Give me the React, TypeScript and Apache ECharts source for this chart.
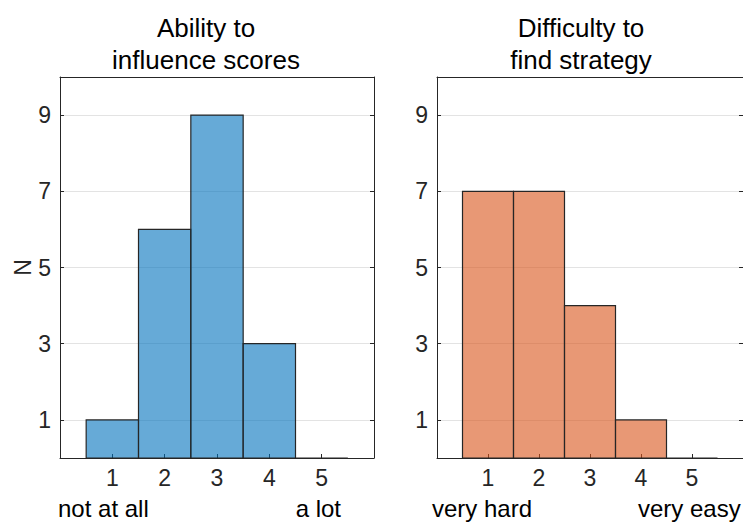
import React, { useEffect, useRef } from "react";
import * as echarts from "echarts";

const categories = [1, 2, 3, 4, 5];
const abilityCounts = [1, 6, 9, 3, 0];
const difficultyCounts = [7, 7, 4, 1, 0];
const yTicks = [1, 3, 5, 7, 9];
const leftTitle = "Ability to\ninfluence scores";
const rightTitle = "Difficulty to\nfind strategy";
const leftEnds = ["not at all", "a lot"];
const rightEnds = ["very hard", "very easy"];
const yName = "N";

const FONT = "Liberation Sans, Arial, Helvetica, sans-serif";
const TICK_FS = 23;
const END_FS = 24;

export default function App() {
  const ref = useRef<HTMLDivElement>(null);
  useEffect(() => {
    if (!ref.current) return;
    const chart = echarts.init(ref.current, null, { renderer: "svg" });
    const grids = [
      { left: 60, top: 77, width: 314, height: 381 },
      { left: 437, top: 77, width: 314, height: 381 },
    ];
    const line = { show: true, onZero: false, lineStyle: { color: "#262626", width: 1 } };
    const xAxes: any[] = [];
    const yAxes: any[] = [];
    grids.forEach((_, i) => {
      xAxes.push({
        type: "value",
        gridIndex: i,
        min: 0,
        max: 6,
        interval: 1,
        axisLine: line,
        axisTick: { show: true, inside: true, length: 4, lineStyle: { color: "#262626" }, customValues: categories },
        axisLabel: { show: true, customValues: categories, color: "#262626", fontSize: TICK_FS, fontFamily: FONT, margin: 8 },
        splitLine: { show: false },
      });
      xAxes.push({
        type: "value",
        gridIndex: i,
        position: "top",
        min: 0,
        max: 6,
        axisLine: line,
        axisTick: { show: false },
        axisLabel: { show: false },
        splitLine: { show: false },
      });
      yAxes.push({
        type: "value",
        gridIndex: i,
        min: 0,
        max: 10,
        name: i === 0 ? yName : "",
        nameLocation: "middle",
        nameGap: 23,
        nameTextStyle: { color: "#262626", fontSize: TICK_FS, fontFamily: FONT },
        axisLine: line,
        axisTick: { show: true, inside: true, length: 4, lineStyle: { color: "#262626" }, customValues: yTicks },
        axisLabel: { show: true, customValues: yTicks, color: "#262626", fontSize: TICK_FS, fontFamily: FONT, margin: 9 },
        splitLine: { show: true, lineStyle: { color: "#e3e3e3", width: 1 } },
      });
      yAxes.push({
        type: "value",
        gridIndex: i,
        position: "right",
        min: 0,
        max: 10,
        axisLine: line,
        axisTick: { show: true, inside: true, length: 4, lineStyle: { color: "#262626" }, customValues: yTicks },
        axisLabel: { show: false },
        splitLine: { show: false },
      });
    });

    const makeSeries = (counts: number[], idx: number, color: string) => ({
      type: "custom",
      xAxisIndex: idx * 2,
      yAxisIndex: idx * 2,
      data: categories.map((c, k) => [c, counts[k]]),
      renderItem: (params: any, api: any) => {
        const x = api.value(0);
        const y = api.value(1);
        const p0 = api.coord([x - 0.5, 0]);
        const p1 = api.coord([x + 0.5, y]);
        return {
          type: "rect",
          shape: { x: p0[0], y: p1[1], width: p1[0] - p0[0], height: p0[1] - p1[1] },
          style: { fill: color, stroke: "#262626", lineWidth: 1.2 },
        };
      },
      z: 3,
    });

    const textStyle = { fill: "#000", fontSize: 26, fontFamily: FONT };
    const endText = { fill: "#000", fontSize: END_FS, fontFamily: FONT };

    chart.setOption({
      animation: false,
      grid: grids,
      xAxis: xAxes,
      yAxis: yAxes,
      series: [
        makeSeries(abilityCounts, 0, "rgba(0,114,189,0.6)"),
        makeSeries(difficultyCounts, 1, "rgba(217,83,25,0.6)"),
      ],
      graphic: [
        { type: "text", x: 206, y: 44, style: { ...textStyle, text: leftTitle, align: "center", verticalAlign: "middle", lineHeight: 32 } },
        { type: "text", x: 581, y: 44, style: { ...textStyle, text: rightTitle, align: "center", verticalAlign: "middle", lineHeight: 32 } },
        { type: "text", x: 58, y: 508, style: { ...endText, text: leftEnds[0], align: "left", verticalAlign: "middle" } },
        { type: "text", x: 341, y: 508, style: { ...endText, text: leftEnds[1], align: "right", verticalAlign: "middle" } },
        { type: "text", x: 432, y: 508, style: { ...endText, text: rightEnds[0], align: "left", verticalAlign: "middle" } },
        { type: "text", x: 638, y: 508, style: { ...endText, text: rightEnds[1], align: "left", verticalAlign: "middle" } },
      ],
    });
    return () => chart.dispose();
  }, []);
  return (
    <div
      ref={ref}
      style={{ position: "fixed", left: 0, top: 0, width: 743, height: 523, background: "#fff" }}
    />
  );
}
